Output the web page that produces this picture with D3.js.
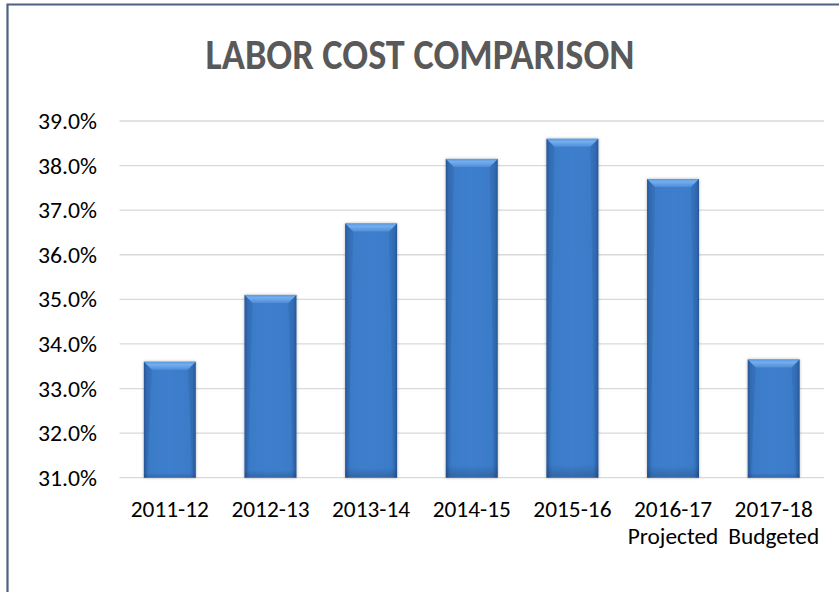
<!DOCTYPE html>
<html><head><meta charset="utf-8">
<script src="https://cdn.jsdelivr.net/npm/d3@7"></script>
<style>body{margin:0;background:#fff} svg{display:block}</style>
</head><body><svg id="c" width="839" height="592"></svg>
<script>
const categories = ["2011-12","2012-13","2013-14","2014-15","2015-16","2016-17","2017-18"];
const subLabels = ["","","","","","Projected","Budgeted"];
const values = [33.6,35.1,36.7,38.15,38.6,37.7,33.65];
const yTicks = [31,32,33,34,35,36,37,38,39];
const title = "LABOR COST COMPARISON";

const FONT = "Carlito, Calibri, 'Open Sans', sans-serif";
const svg = d3.select("#c");
const W = 839, H = 592;

function measure(txt, weight, size){
  const t = svg.append("text").attr("font-family",FONT).attr("font-weight",weight).attr("font-size",size).text(txt);
  const len = t.node().getComputedTextLength();
  t.remove();
  return len;
}
const titleSize = 42;
const titleSx = 429 / measure(title, "bold", titleSize);
const tickSize = 21.5;
const tickSx = 59 / measure("39.0%", "normal", tickSize);
const xSize = 22.5;
const xSx = Math.min(1.05, (78 / measure("2011-12", "normal", xSize) + 91 / measure("Projected", "normal", xSize)) / 2);

// frame
svg.append("rect").attr("x",0).attr("y",0).attr("width",W).attr("height",H).attr("fill","#fff");
svg.append("path").attr("d",`M7.5,${H} V4.5 H${W}`).attr("fill","none")
  .attr("stroke","#4d6182").attr("stroke-width",2.2);

const defs = svg.append("defs");
const gH = defs.append("linearGradient").attr("id","barH").attr("x1","0").attr("x2","1").attr("y1","0").attr("y2","0");
[["0%","#28599a"],["5%","#3470bb"],["12%","#3b7bc8"],["50%","#3e7fcd"],["88%","#3b7bc8"],["95%","#3470bb"],["100%","#28599a"]]
  .forEach(([o,c])=>gH.append("stop").attr("offset",o).attr("stop-color",c));
const gV = defs.append("linearGradient").attr("id","barV").attr("x1","0").attr("x2","0").attr("y1","0").attr("y2","1");
[["0%","#000000",0.0],["96%","#000000",0.0],["100%","#000000",0.18]]
  .forEach(([o,c,op])=>gV.append("stop").attr("offset",o).attr("stop-color",c).attr("stop-opacity",op));
const gT = defs.append("linearGradient").attr("id","bevT").attr("x1","0").attr("x2","0").attr("y1","0").attr("y2","1");
[["0%","#5b98e0"],["35%","#73aeee"],["100%","#4f8dd9"]]
  .forEach(([o,c])=>gT.append("stop").attr("offset",o).attr("stop-color",c));
const f = defs.append("filter").attr("id","sh").attr("x","-20%").attr("y","-5%").attr("width","140%").attr("height","110%");
f.append("feDropShadow").attr("dx",0).attr("dy",0).attr("stdDeviation",1.5).attr("flood-color","#000").attr("flood-opacity",0.3);

const x = d3.scaleBand().domain(categories).range([119.5, 824]).paddingInner(0.484).paddingOuter(0.242);
const y = d3.scaleLinear().domain([31,39]).range([477.7,121]);

// title
svg.append("text").attr("transform",`translate(420,69) scale(${titleSx},1)`).attr("text-anchor","middle")
  .attr("font-family",FONT).attr("font-weight","bold").attr("font-size",titleSize).attr("fill","#595959").text(title);

// gridlines
svg.append("g").selectAll("line").data(yTicks).join("line")
  .attr("x1",119.5).attr("x2",824).attr("y1",d=>y(d)).attr("y2",d=>y(d))
  .attr("stroke","#d9d9d9").attr("stroke-width",1.3);

// y axis labels
const yAxis = d3.axisLeft(y).tickValues(yTicks).tickSize(0).tickPadding(0).tickFormat(d=>d3.format(".1f")(d)+"%");
const gy = svg.append("g").attr("transform","translate(97,0)").call(yAxis);
gy.select(".domain").remove();
gy.selectAll("text").attr("font-family",FONT).attr("font-size",tickSize).attr("fill","#000")
  .attr("x",0).attr("dy","0.35em").attr("transform",`scale(${tickSx},1)`);

// bars
const bars = svg.append("g").selectAll("g").data(values).join("g").attr("filter","url(#sh)");
bars.each(function(v,i){
  const g = d3.select(this);
  const x0 = x(categories[i]), w = x.bandwidth(), y0 = y(v), h = y(31)-y(v);
  g.append("rect").attr("x",x0).attr("y",y0).attr("width",w).attr("height",h).attr("fill","url(#barH)");
  g.append("rect").attr("x",x0).attr("y",y0).attr("width",w).attr("height",h).attr("fill","url(#barV)");
  const b = 8;
  g.append("path").attr("d",`M${x0},${y0} H${x0+w} L${x0+w-b},${y0+b} H${x0+b} Z`).attr("fill","url(#bevT)");
  g.append("path").attr("d",`M${x0},${y0} L${x0+b},${y0+b} L${x0+3},${y0+h} H${x0} Z`).attr("fill","#1f4a82").attr("opacity",0.18);
  g.append("path").attr("d",`M${x0+w},${y0} L${x0+w-b},${y0+b} L${x0+w-3},${y0+h} H${x0+w} Z`).attr("fill","#1f4a82").attr("opacity",0.18);
});

// x axis labels
const xAxis = d3.axisBottom(x).tickSize(0).tickPadding(0);
const gx = svg.append("g").attr("transform","translate(0,517)").call(xAxis);
gx.select(".domain").remove();
gx.selectAll("text").attr("font-family",FONT).attr("font-size",xSize).attr("fill","#000")
  .attr("y",0).attr("dy",0).attr("transform",`scale(${xSx},1)`);
gx.selectAll(".tick").each(function(d,i){
  if (subLabels[i]) d3.select(this).append("text").attr("y",27).attr("text-anchor","middle")
    .attr("transform",`scale(${xSx},1)`)
    .attr("font-family",FONT).attr("font-size",xSize).attr("fill","#000").text(subLabels[i]);
});
</script></body></html>
